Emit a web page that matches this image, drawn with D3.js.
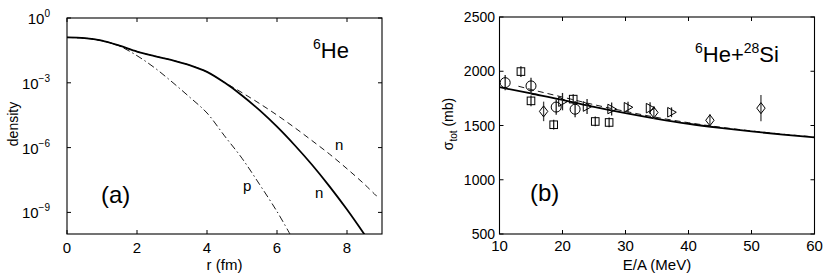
<!DOCTYPE html>
<html>
<head>
<meta charset="utf-8">
<script src="https://cdn.jsdelivr.net/npm/d3@7"></script>
<style>
  body { margin: 0; background: #fff; }
  svg { display: block; font-family: "Liberation Sans", Arial, sans-serif; }
</style>
</head>
<body>
<div id="chart"></div>
<script>
// ---- panel (a): densities of 6He ----
var rGrid = [0, 0.5, 1, 1.5, 2, 2.5, 3, 3.5, 4, 4.5, 5, 5.5, 6, 6.5, 7, 7.5, 8, 8.5];
var densSolid = [1.26e-1, 1.17e-1, 8.9e-2, 5.2e-2, 2.8e-2, 1.74e-2, 1.12e-2, 6.6e-3, 3.2e-3,
                 1.02e-3, 2.6e-4, 5.4e-5, 9.3e-6, 1.32e-6, 1.6e-7, 1.6e-8, 1.35e-9, 9.5e-11];

var rDashed = [0, 0.5, 1, 1.5, 2, 2.5, 3, 3.5, 4, 4.5, 5, 5.5, 6, 6.5, 7, 7.5, 8, 8.5, 8.85];
var densDashed = [1.26e-1, 1.17e-1, 8.9e-2, 5.2e-2, 2.8e-2, 1.74e-2, 1.12e-2, 6.6e-3, 3.2e-3,
                  1.05e-3, 3.5e-4, 1.1e-4, 3.2e-5, 8.5e-6, 2.1e-6, 5.0e-7, 1.05e-7, 2.0e-8, 5.6e-9];

var rProton = [0, 0.5, 1, 1.5, 2, 2.5, 3, 3.5, 4, 4.5, 5, 5.5, 6, 6.37];
var densProton = [1.26e-1, 1.17e-1, 8.9e-2, 5.0e-2, 1.8e-2, 5.0e-3, 1.1e-3, 2.2e-4, 4.0e-5,
                  3.5e-6, 3.2e-7, 2.0e-8, 1.1e-9, 1.0e-10];

var densTicks = [0, -3, -6, -9];       // exponents
var rTicks = [0, 2, 4, 6, 8];

// ---- panel (b): total reaction cross section 6He+28Si ----
var eTheory = [10, 15, 20, 25, 30, 35, 40, 45, 50, 55, 60];
var sigSolid = [1853, 1795, 1737, 1672, 1614, 1562, 1516, 1478, 1445, 1416, 1390];
var eTheory2 = [13, 15, 20, 25, 30, 35, 40, 45, 50, 55, 60];
var sigDashed = [1862, 1832, 1762, 1692, 1630, 1574, 1526, 1485, 1450, 1420, 1395];

// measured points: [E/A, sigma, error]
var circlePts = [[10.9, 1895, 70], [15.0, 1865, 75], [19.0, 1670, 70], [22.0, 1650, 75]];
var squarePts = [[13.4, 1997, 50], [15.0, 1727, 50], [18.6, 1507, 45], [21.7, 1743, 45],
                 [25.2, 1537, 45], [27.4, 1528, 45]];
var diamondPts = [[17.0, 1630, 90], [34.5, 1620, 60], [43.4, 1548, 55], [51.5, 1660, 120]];
var trianglePts = [[20.0, 1720, 80], [23.9, 1675, 70], [27.8, 1652, 60], [30.4, 1668, 50],
                   [33.9, 1660, 55], [37.3, 1622, 45]];

var sigTicks = [500, 1000, 1500, 2000, 2500];
var eTicks = [10, 20, 30, 40, 50, 60];

var W = 830, H = 273;
var svg = d3.select("#chart").append("svg").attr("width", W).attr("height", H);

function frame(g, x, y, xt, yt, yval) {
    var x0 = x.range()[0], x1 = x.range()[1];
    var y0 = y.range()[0], y1 = y.range()[1];
    g.append("rect").attr("x", x0).attr("y", y1)
        .attr("width", x1 - x0).attr("height", y0 - y1)
        .attr("fill", "none").attr("stroke", "#000").attr("stroke-width", 1.1);
    var tl = 4;
    xt.forEach(function(t) {
        var px = x(t);
        g.append("line").attr("x1", px).attr("x2", px).attr("y1", y0).attr("y2", y0 - tl).attr("stroke", "#000");
        g.append("line").attr("x1", px).attr("x2", px).attr("y1", y1).attr("y2", y1 + tl).attr("stroke", "#000");
    });
    yt.forEach(function(t) {
        var py = y(yval(t));
        g.append("line").attr("x1", x0).attr("x2", x0 + tl).attr("y1", py).attr("y2", py).attr("stroke", "#000");
        g.append("line").attr("x1", x1).attr("x2", x1 - tl).attr("y1", py).attr("y2", py).attr("stroke", "#000");
    });
}

// ================= panel (a) =================
var ga = svg.append("g");
var xa = d3.scaleLinear().domain([0, 9]).range([67, 382]);
var ya = d3.scaleLog().domain([1e-10, 1]).range([234, 18]);

var lineA = d3.line().curve(d3.curveCatmullRom.alpha(0.5));
function pts(xs, ys) { return xs.map(function(v, i) { return [xa(v), ya(ys[i])]; }); }

ga.append("defs").append("clipPath").attr("id", "clipA")
    .append("rect").attr("x", 67).attr("y", 18).attr("width", 315).attr("height", 216);

var curves = ga.append("g").attr("clip-path", "url(#clipA)");
curves.append("path").attr("d", lineA(pts(rProton, densProton)))
    .attr("fill", "none").attr("stroke", "#000").attr("stroke-width", 0.9)
    .attr("stroke-dasharray", "7,3,1.5,3");
curves.append("path").attr("d", lineA(pts(rDashed, densDashed)))
    .attr("fill", "none").attr("stroke", "#000").attr("stroke-width", 0.9)
    .attr("stroke-dasharray", "6,4");
curves.append("path").attr("d", lineA(pts(rGrid, densSolid)))
    .attr("fill", "none").attr("stroke", "#000").attr("stroke-width", 1.8);

frame(ga, xa, ya, rTicks, densTicks, function(e) { return Math.pow(10, e); });

rTicks.forEach(function(t) {
    ga.append("text").attr("x", xa(t)).attr("y", 253).attr("text-anchor", "middle")
        .attr("font-size", 15).text(t);
});
densTicks.forEach(function(e) {
    var t = ga.append("text").attr("x", 50).attr("y", ya(Math.pow(10, e)) + 6)
        .attr("text-anchor", "end").attr("font-size", 15);
    t.append("tspan").text("10");
    t.append("tspan").attr("dy", -7).attr("font-size", 10).text(e === 0 ? "0" : "\u2212" + (-e));
});
ga.append("text").attr("x", xa(4.5)).attr("y", 270).attr("text-anchor", "middle")
    .attr("font-size", 15).text("r (fm)");
ga.append("text").attr("transform", "translate(18,124) rotate(-90)").attr("text-anchor", "middle")
    .attr("font-size", 14).text("density");

var ta = ga.append("text").attr("x", 313).attr("y", 58).attr("font-size", 22);
ta.append("tspan").attr("font-size", 14).attr("dy", -9).text("6");
ta.append("tspan").attr("dy", 9).text("He");
ga.append("text").attr("x", 101).attr("y", 203).attr("font-size", 24).text("(a)");
ga.append("text").attr("x", 335).attr("y", 150).attr("font-size", 15).text("n");
ga.append("text").attr("x", 315).attr("y", 198).attr("font-size", 15).text("n");
ga.append("text").attr("x", 243).attr("y", 191).attr("font-size", 15).text("p");

// ================= panel (b) =================
var gb = svg.append("g");
var xb = d3.scaleLinear().domain([10, 60]).range([499.5, 814.5]);
var yb = d3.scaleLinear().domain([500, 2500]).range([234, 17]);

var lineB = d3.line().curve(d3.curveMonotoneX);
gb.append("path").attr("d", lineB(eTheory2.map(function(e, i) { return [xb(e), yb(sigDashed[i])]; })))
    .attr("fill", "none").attr("stroke", "#000").attr("stroke-width", 0.9).attr("stroke-dasharray", "6,4");
gb.append("path").attr("d", lineB(eTheory.map(function(e, i) { return [xb(e), yb(sigSolid[i])]; })))
    .attr("fill", "none").attr("stroke", "#000").attr("stroke-width", 1.8);

function errBars(data, col) {
    gb.selectAll(null).data(data).enter().append("line")
        .attr("x1", function(d) { return xb(d[0]); }).attr("x2", function(d) { return xb(d[0]); })
        .attr("y1", function(d) { return yb(d[1] - d[2]); }).attr("y2", function(d) { return yb(d[1] + d[2]); })
        .attr("stroke", col).attr("stroke-width", 1.3);
}
errBars(circlePts, "#222");
errBars(squarePts, "#222");
errBars(diamondPts, "#444");
errBars(trianglePts, "#222");

gb.selectAll(null).data(circlePts).enter().append("circle")
    .attr("cx", function(d) { return xb(d[0]); }).attr("cy", function(d) { return yb(d[1]); })
    .attr("r", 5).attr("fill", "none").attr("stroke", "#000").attr("stroke-width", 1);
gb.selectAll(null).data(squarePts).enter().append("rect")
    .attr("x", function(d) { return xb(d[0]) - 3.8; }).attr("y", function(d) { return yb(d[1]) - 3.8; })
    .attr("width", 7.6).attr("height", 7.6).attr("fill", "none").attr("stroke", "#000").attr("stroke-width", 1);
gb.selectAll(null).data(diamondPts).enter().append("path")
    .attr("transform", function(d) { return "translate(" + xb(d[0]) + "," + yb(d[1]) + ")"; })
    .attr("d", "M0,-5.5L4.2,0L0,5.5L-4.2,0Z").attr("fill", "none").attr("stroke", "#000").attr("stroke-width", 1);
gb.selectAll(null).data(trianglePts).enter().append("path")
    .attr("transform", function(d) { return "translate(" + xb(d[0]) + "," + yb(d[1]) + ")"; })
    .attr("d", "M-3.8,-4.8L4.8,0L-3.8,4.8Z").attr("fill", "none").attr("stroke", "#000").attr("stroke-width", 1);

frame(gb, xb, yb, eTicks, sigTicks, function(v) { return v; });

eTicks.forEach(function(t) {
    gb.append("text").attr("x", xb(t)).attr("y", 251).attr("text-anchor", "middle")
        .attr("font-size", 15).text(t);
});
sigTicks.forEach(function(t) {
    gb.append("text").attr("x", 495).attr("y", yb(t) + 5).attr("text-anchor", "end")
        .attr("font-size", 14).text(t);
});
gb.append("text").attr("x", xb(35)).attr("y", 270).attr("text-anchor", "middle")
    .attr("font-size", 15).text("E/A (MeV)");
var yl = gb.append("text").attr("transform", "translate(453,124) rotate(-90)")
    .attr("text-anchor", "middle").attr("font-size", 14);
yl.append("tspan").text("\u03c3");
yl.append("tspan").attr("dy", 4).attr("font-size", 10).text("tot");
yl.append("tspan").attr("dy", -4).text(" (mb)");

var tb = gb.append("text").attr("x", 695).attr("y", 62).attr("font-size", 22);
tb.append("tspan").attr("font-size", 14).attr("dy", -9).text("6");
tb.append("tspan").attr("dy", 9).text("He+");
tb.append("tspan").attr("font-size", 14).attr("dy", -9).text("28");
tb.append("tspan").attr("dy", 9).text("Si");
gb.append("text").attr("x", 530).attr("y", 201).attr("font-size", 24).text("(b)");
</script>
</body>
</html>
